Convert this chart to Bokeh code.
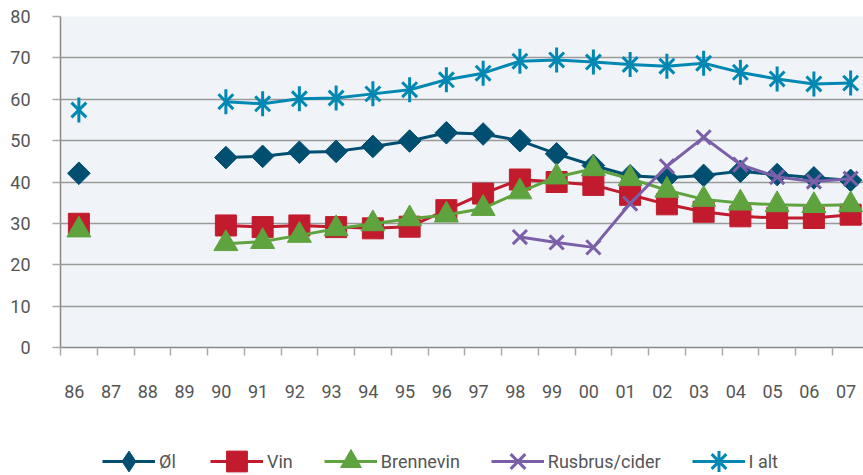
import numpy as np
from bokeh.plotting import figure
from bokeh.layouts import column
from bokeh.models import FixedTicker, Range1d, Legend, LegendItem, CustomJSTickFormatter
from bokeh.embed import file_html
from bokeh.resources import INLINE

nan = float("nan")
years = ["86", "87", "88", "89", "90", "91", "92", "93", "94", "95", "96",
         "97", "98", "99", "00", "01", "02", "03", "04", "05", "06", "07"]
ol = [42.1, nan, nan, nan, 45.9, 46.2, 47.2, 47.4, 48.6, 49.9, 51.9,
      51.6, 50.0, 46.8, 44.0, 41.5, 41.0, 41.6, 42.6, 41.8, 41.0, 40.4]
vin = [29.9, nan, nan, nan, 29.5, 29.1, 29.5, 29.1, 28.8, 29.2, 33.2,
       37.2, 40.6, 40.0, 39.3, 36.9, 34.6, 32.8, 31.7, 31.3, 31.3, 32.1]
brennevin = [28.4, nan, nan, nan, 25.1, 25.6, 27.1, 28.7, 29.9, 31.1, 32.0,
             33.6, 37.6, 41.2, 43.2, 40.8, 38.0, 35.8, 34.9, 34.5, 34.3, 34.5]
rusbrus = [nan, nan, nan, nan, nan, nan, nan, nan, nan, nan, nan,
           nan, 26.7, 25.4, 24.2, 34.8, 43.8, 50.8, 44.2, 41.2, 40.1, 40.8]
i_alt = [57.4, nan, nan, nan, 59.4, 58.9, 60.1, 60.3, 61.3, 62.3, 64.7,
         66.3, 69.2, 69.5, 69.0, 68.4, 68.0, 68.7, 66.5, 64.9, 63.7, 63.9]
y_ticks = [0, 10, 20, 30, 40, 50, 60, 70, 80]

x = list(range(len(years)))
FONT = "Roboto"
TXT = "#555555"

p = figure(width=863, height=408, x_range=Range1d(-0.5, 21.35), y_range=Range1d(0, 80),
           output_backend="svg", toolbar_location=None,
           min_border_left=60, min_border_right=0, min_border_top=16, min_border_bottom=61)
p.background_fill_color = "#f0f4f8"
p.border_fill_color = "white"
p.outline_line_color = None
p.xgrid.visible = False
p.ygrid.ticker = FixedTicker(ticks=y_ticks)
p.ygrid.grid_line_color = "#9a9a9a"
p.ygrid.grid_line_width = 1.5

ya = p.yaxis[0]
ya.ticker = FixedTicker(ticks=y_ticks, minor_ticks=[])
ya.major_tick_out = 8
ya.major_tick_in = 0
ya.major_tick_line_color = "#aaaaaa"
ya.major_tick_line_width = 1.5
ya.axis_line_color = "#888888"
ya.axis_line_width = 1.5
ya.major_label_standoff = 22
ya.major_label_text_font = FONT
ya.major_label_text_font_size = "18px"
ya.major_label_text_color = TXT

xa = p.xaxis[0]
xa.ticker = FixedTicker(ticks=[i - 0.125 for i in x],
                        minor_ticks=[i - 0.5 for i in range(len(years) + 1)])
xa.formatter = CustomJSTickFormatter(args=dict(labels=years),
                                     code="return labels[Math.round(tick)];")
xa.major_tick_out = 0
xa.major_tick_in = 0
xa.minor_tick_out = 8
xa.minor_tick_in = 0
xa.minor_tick_line_color = "#aaaaaa"
xa.minor_tick_line_width = 1.5
xa.axis_line_color = "#888888"
xa.axis_line_width = 1.5
xa.major_label_standoff = 29
xa.major_label_text_font = FONT
xa.major_label_text_font_size = "18px"
xa.major_label_text_color = TXT

# legend figure (keys only, no data drawn)
lg = figure(width=863, height=67, x_range=Range1d(0, 1), y_range=Range1d(0, 1),
            output_backend="svg", toolbar_location=None,
            x_axis_location=None, y_axis_location=None, min_border=0)
lg.outline_line_color = None
lg.grid.visible = False
lg.background_fill_color = "white"
lg.border_fill_color = "white"

series = [
    ("Øl", ol, "#004f71"),
    ("Vin", vin, "#c11b2d"),
    ("Brennevin", brennevin, "#5fa33f"),
    ("Rusbrus/cider", rusbrus, "#7b5fa8"),
    ("I alt", i_alt, "#0088b2"),
]
items = []
for name, ys, col in series:
    p.line(x, ys, line_color=col, line_width=3)
    kl = lg.line([nan], [nan], line_color=col, line_width=3)
    if name == "Øl":
        p.scatter(x, ys, marker="square", size=16, angle=np.pi / 4,
                  fill_color=col, line_color=col)
        km = lg.scatter([nan], [nan], marker="diamond", fill_color=col, line_color=col)
    elif name == "Vin":
        p.scatter(x, ys, marker="square", size=21, fill_color=col, line_color=col)
        km = lg.scatter([nan], [nan], marker="square", fill_color=col, line_color=col)
    elif name == "Brennevin":
        p.scatter(x, ys, marker="triangle", size=24, fill_color=col, line_color=col)
        km = lg.scatter([nan], [nan], marker="triangle", fill_color=col, line_color=col)
    elif name == "Rusbrus/cider":
        p.scatter(x, ys, marker="x", size=20, line_color=col, line_width=3)
        km = lg.scatter([nan], [nan], marker="x", line_color=col, line_width=3)
    else:
        p.scatter(x, ys, marker="x", size=21, line_color=col, line_width=3)
        p.scatter(x, ys, marker="dash", size=25, angle=np.pi / 2, line_color=col, line_width=3)
        km = lg.scatter([nan], [nan], marker="asterisk", line_color=col, line_width=3)
    items.append(LegendItem(label=name, renderers=[kl, km]))

legend = Legend(items=items, orientation="horizontal", location=(42, -12),
                glyph_width=53, glyph_height=52, label_standoff=4, spacing=31,
                padding=0, margin=0, border_line_color=None, background_fill_alpha=0,
                label_text_font=FONT, label_text_font_size="18px", label_text_color=TXT)
lg.add_layout(legend, "center")

layout = column(p, lg, spacing=0)
open("out.html", "w").write(file_html(layout, INLINE))
